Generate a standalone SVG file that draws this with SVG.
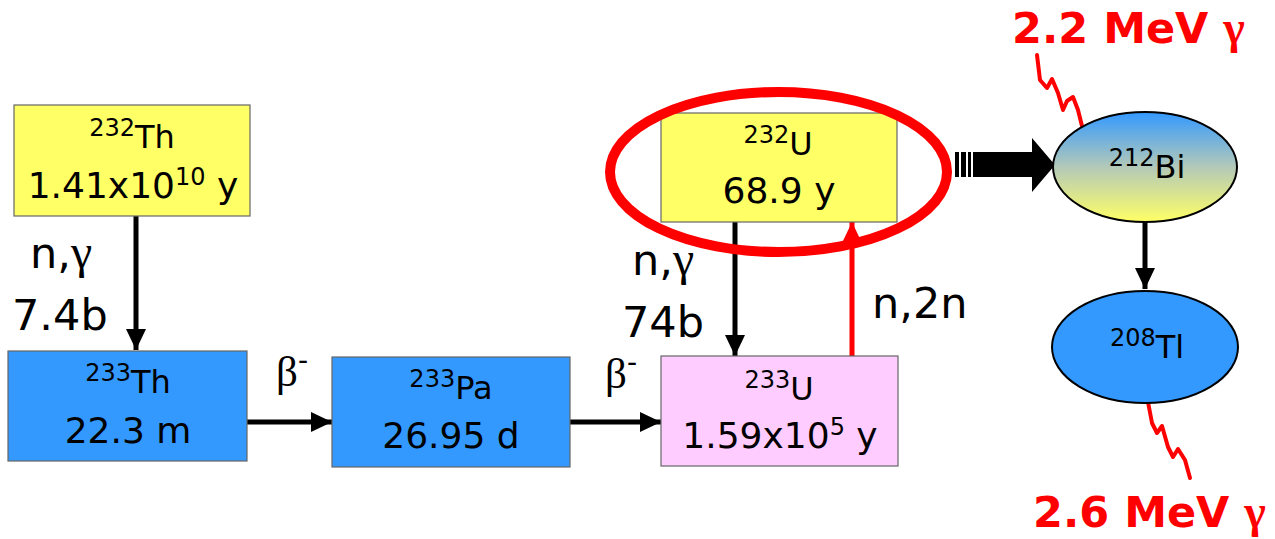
<svg xmlns="http://www.w3.org/2000/svg" width="1275" height="539" viewBox="0 0 1275 539">
<style>
.box{stroke:#666;stroke-width:1.2}
.yel{fill:#ffff66}
.blu{fill:#3399ff}
.pnk{fill:#ffccff}
.t1{font-family:"DejaVu Sans",Verdana,sans-serif;font-size:32px;fill:#000;text-anchor:middle}
.t2{font-family:"DejaVu Sans",Verdana,sans-serif;font-size:36px;fill:#000;text-anchor:middle}
.sup{font-size:24px}
.lbl{font-family:"DejaVu Sans",Verdana,sans-serif;font-size:43px;fill:#000}
.gr{font-family:"Liberation Serif","DejaVu Serif",serif}
.red{font-family:"DejaVu Sans",sans-serif;font-weight:bold;font-size:43px;fill:#ff0000}
.arr{stroke:#000;stroke-width:5;fill:none;marker-end:url(#ah)}
.arrR{stroke:#ff0000;stroke-width:5;fill:none;marker-end:url(#ahR)}
.sq{stroke:#ff0000;stroke-width:4;fill:none;stroke-linejoin:round;stroke-linecap:round}
.ell{stroke:#000;stroke-width:2}
</style>
<defs>
<marker id="ah" markerUnits="userSpaceOnUse" markerWidth="21" markerHeight="20" refX="21" refY="10" orient="auto">
<path d="M0,0 L21,10 L0,20 z" fill="#000"/>
</marker>
<marker id="ahR" markerUnits="userSpaceOnUse" markerWidth="21" markerHeight="20" refX="21" refY="10" orient="auto">
<path d="M0,0 L21,10 L0,20 z" fill="#ff0000"/>
</marker>
<linearGradient id="biGrad" x1="0" y1="0" x2="0" y2="1">
<stop offset="0" stop-color="#3399ff"/>
<stop offset="0.5" stop-color="#b3c9b8"/>
<stop offset="1" stop-color="#ffff66"/>
</linearGradient>
</defs>
<rect width="1275" height="539" fill="#fff"/>

<g id="connectors">
<line class="arr" x1="136" y1="216" x2="136" y2="350"/>
<line class="arr" x1="247" y1="422" x2="332" y2="422"/>
<line class="arr" x1="570" y1="422" x2="661" y2="422"/>
<line class="arr" x1="735" y1="222" x2="735" y2="356"/>
<line class="arrR" x1="852" y1="356" x2="852" y2="222"/>
<line class="arr" x1="1145" y1="222" x2="1145" y2="289"/>
<g id="big-arrow" fill="#000">
<rect x="955" y="152" width="4" height="25"/>
<rect x="961" y="152" width="5" height="25"/>
<rect x="968" y="152" width="3" height="25"/>
<polygon points="973,152 1032,152 1032,138 1055,165 1032,192 1032,177 973,177"/>
</g>
<polyline class="sq" points="1037,55 1040,80 1047,88 1052,79 1058,93 1063,110 1067,101 1073,97 1078,110 1083,130"/>
<polyline class="sq" points="1148,402 1152,423 1157,433 1162,426 1168,447 1173,457 1178,449 1185,460 1190,478"/>
</g>

<g id="th232">
<rect class="box yel" x="14" y="105" width="236" height="111"/>
<text class="t1" x="132" y="148"><tspan class="sup" dy="-12">232</tspan><tspan dy="12">Th</tspan></text>
<text class="t2" x="133" y="198">1.41x10<tspan class="sup" dy="-13">10</tspan><tspan dy="13"> y</tspan></text>
</g>

<g id="th233">
<rect class="box blu" x="8" y="351" width="239" height="110"/>
<text class="t1" x="128" y="393"><tspan class="sup" dy="-12">233</tspan><tspan dy="12">Th</tspan></text>
<text class="t2" x="128" y="443">22.3 m</text>
</g>

<g id="pa233">
<rect class="box blu" x="332" y="357" width="238" height="110"/>
<text class="t1" x="451" y="399"><tspan class="sup" dy="-12">233</tspan><tspan dy="12">Pa</tspan></text>
<text class="t2" x="451" y="448">26.95 d</text>
</g>

<g id="u233">
<rect class="box pnk" x="661" y="356" width="237" height="110"/>
<text class="t1" x="779" y="400"><tspan class="sup" dy="-12">233</tspan><tspan dy="12">U</tspan></text>
<text class="t2" x="780" y="448">1.59x10<tspan class="sup" dy="-13">5</tspan><tspan dy="13"> y</tspan></text>
</g>

<g id="u232">
<rect class="box yel" x="661" y="113" width="236" height="109"/>
<text class="t1" x="778" y="155"><tspan class="sup" dy="-12">232</tspan><tspan dy="12">U</tspan></text>
<text class="t2" x="779" y="203">68.9 y</text>
</g>

<g id="highlight">
<ellipse cx="778.5" cy="172" rx="168.5" ry="80" fill="none" stroke="#ff0000" stroke-width="10"/>
</g>

<g id="bi212">
<ellipse class="ell" cx="1145" cy="167" rx="92" ry="55" fill="url(#biGrad)"/>
<text class="t1" x="1147" y="178"><tspan class="sup" dy="-12">212</tspan><tspan dy="12">Bi</tspan></text>
</g>

<g id="tl208">
<ellipse class="ell" cx="1145" cy="347" rx="93" ry="56" fill="#3399ff"/>
<text class="t1" x="1147" y="358"><tspan class="sup" dy="-12">208</tspan><tspan dy="12">Tl</tspan></text>
</g>

<g id="labels">
<text class="lbl" x="30" y="268">n,<tspan class="gr" font-size="48">γ</tspan></text>
<text class="lbl" x="12" y="330" font-size="44">7.4b</text>
<text class="lbl" x="632" y="275">n,<tspan class="gr" font-size="48">γ</tspan></text>
<text class="lbl" x="622" y="337" font-size="42">74b</text>
<text class="lbl" x="872" y="318">n,2n</text>
<text class="lbl gr" x="276" y="386" font-size="46">β<tspan font-family="DejaVu Sans" font-size="28" dy="-16">-</tspan></text>
<text class="lbl gr" x="605" y="388" font-size="46">β<tspan font-family="DejaVu Sans" font-size="28" dy="-16">-</tspan></text>
<text class="red" x="1012" y="43">2.2 MeV <tspan class="gr" font-size="46" font-weight="bold">γ</tspan></text>
<text class="red" x="1033" y="527">2.6 MeV <tspan class="gr" font-size="46" font-weight="bold">γ</tspan></text>
</g>
</svg>
